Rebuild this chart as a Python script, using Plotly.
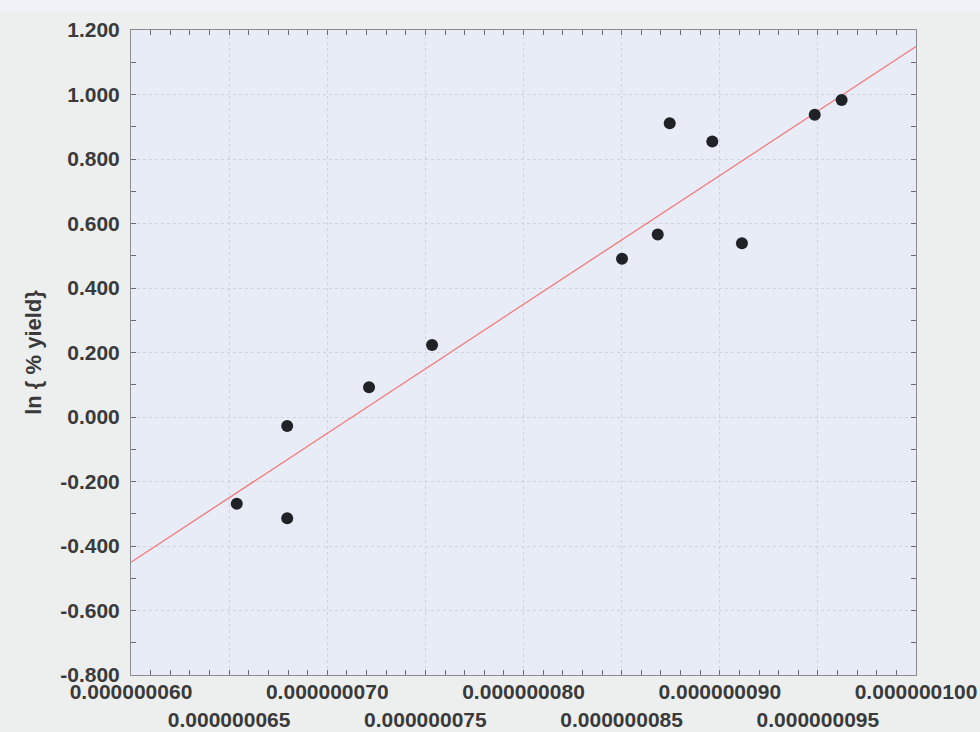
import numpy as np
import plotly.graph_objects as go

# Reciprocal-variable values (x) and ln(% yield) (y) for each run
x_vals = [65.39e-9, 67.96e-9, 67.96e-9, 72.13e-9, 75.34e-9, 85.02e-9,
          86.84e-9, 87.45e-9, 89.62e-9, 91.13e-9, 94.84e-9, 96.21e-9]
ln_yield = [-0.269, -0.028, -0.314, 0.092, 0.223, 0.491,
            0.566, 0.911, 0.854, 0.539, 0.937, 0.983]

# Axis ticks
x_ticks = [60e-9, 65e-9, 70e-9, 75e-9, 80e-9, 85e-9, 90e-9, 95e-9, 100e-9]
x_tick_labels = ["0.000000060", "0.000000065", "0.000000070", "0.000000075",
                 "0.000000080", "0.000000085", "0.000000090", "0.000000095",
                 "0.000000100"]
y_ticks = [-0.8, -0.6, -0.4, -0.2, 0.0, 0.2, 0.4, 0.6, 0.8, 1.0, 1.2]

# Least-squares trend line across the full x range
slope, intercept = np.polyfit(np.array(x_vals) * 1e9, np.array(ln_yield), 1)
fit_x = np.array([x_ticks[0], x_ticks[-1]])
fit_y = slope * fit_x * 1e9 + intercept

# Alternate labels drop to a second row
staggered = [t if i % 2 == 0 else "<br>" + t for i, t in enumerate(x_tick_labels)]

FONT = "Liberation Sans, Arial, sans-serif"
tick_font = dict(family=FONT, size=21, color="#3a3a3a", weight="bold")

fig = go.Figure()
fig.add_trace(go.Scatter(x=fit_x, y=fit_y, mode="lines",
                         line=dict(color="#f27a7a", width=1.3),
                         hoverinfo="skip", showlegend=False))
fig.add_trace(go.Scatter(x=x_vals, y=ln_yield, mode="markers",
                         marker=dict(color="#1f2226", size=12, line=dict(width=0)),
                         showlegend=False))

axis_common = dict(showline=True, linecolor="#8a8c90", linewidth=1,
                   mirror="allticks", ticks="inside", ticklen=5, tickcolor="#6a6c70",
                   showgrid=True, gridcolor="#d0d3db", griddash="3px,3px", gridwidth=1,
                   zeroline=False, tickfont=tick_font, automargin=False)

fig.update_xaxes(range=[x_ticks[0], x_ticks[-1]], tickmode="array",
                 tickvals=x_ticks, ticktext=staggered, tickangle=0,
                 ticklabelstandoff=-2,
                 minor=dict(dtick=1e-9, tick0=60e-9, ticks="inside", ticklen=5,
                            tickcolor="#6a6c70", showgrid=False),
                 **axis_common)
fig.update_yaxes(range=[-0.8, 1.2], tickmode="array", tickvals=y_ticks,
                 ticktext=[f"{v:.3f}" for v in y_ticks],
                 ticklabelstandoff=6,
                 minor=dict(dtick=0.1, tick0=0, ticks="inside", ticklen=5,
                            tickcolor="#6a6c70", showgrid=False),
                 title=dict(text="ln { % yield}", standoff=12,
                            font=dict(family=FONT, size=22, color="#3a3a3a",
                                      weight="bold")),
                 **axis_common)

fig.update_layout(
    width=980, height=732,
    margin=dict(l=131, r=64, t=30, b=57),
    paper_bgcolor="#edefef",
    plot_bgcolor="#e8ecf7",
    shapes=[dict(type="rect", xref="paper", yref="paper", layer="below",
                 x0=-0.2, x1=1.1, y0=1.028, y1=1.1,
                 fillcolor="#eff2f6", line=dict(width=0))],
)

fig.write_html("out.html")
